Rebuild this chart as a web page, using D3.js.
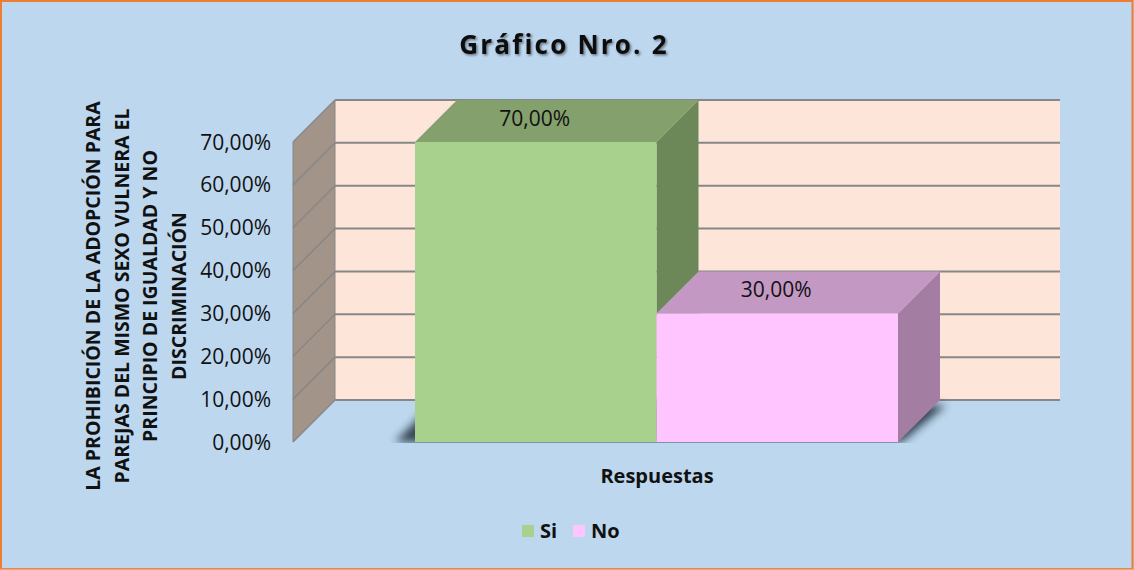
<!DOCTYPE html>
<html>
<head>
<meta charset="utf-8">
<script src="https://cdn.jsdelivr.net/npm/d3@7"></script>
<style>
  html, body { margin: 0; padding: 0; background: #BDD7EE; }
  svg { display: block; font-family: 'Open Sans', sans-serif; }
</style>
</head>
<body>
<svg id="chart" width="1134" height="570"></svg>
<script>
const TITLE = 'Gráfico Nro. 2';
const Y_TITLE = [
  'LA PROHIBICIÓN DE LA ADOPCIÓN PARA',
  'PAREJAS DEL MISMO SEXO VULNERA EL',
  'PRINCIPIO DE IGUALDAD Y NO',
  'DISCRIMINACIÓN',
];
const X_TITLE = 'Respuestas';
const SERIES = ['Si', 'No'];
const VALUES = [0.70, 0.30];
const LABELS = ['70,00%', '30,00%'];
const TICKS = [0, 0.1, 0.2, 0.3, 0.4, 0.5, 0.6, 0.7];

const COLORS = {
  Si: { front: '#A9D18E', top: '#84A06C', side: '#6C8858' },
  No: { front: '#FFC5FF', top: '#C399C3', side: '#A37EA2' },
};
const BACK_WALL = '#FDE6D9';
const SIDE_WALL = '#A39489';
const GRID = '#878787';

const W = 1134;
const H = 570;
const DX = 42;   // depth offset x
const DY = -42;  // depth offset y

const svg = d3.select('#chart');
const defs = svg.append('defs');

defs.append('filter').attr('id', 'blur')
  .attr('x', '-20%').attr('y', '-50%').attr('width', '140%').attr('height', '200%')
  .append('feGaussianBlur').attr('stdDeviation', 4.5);

const ts = defs.append('filter').attr('id', 'tshadow')
  .attr('x', '-10%').attr('y', '-30%').attr('width', '120%').attr('height', '160%');
ts.append('feDropShadow').attr('dx', 1.5).attr('dy', 1.5).attr('stdDeviation', 1.2)
  .attr('flood-color', '#000').attr('flood-opacity', 0.45);

const y = d3.scaleLinear().domain([0, 0.7]).range([442, 142]);
const xFront = [293, 1018];
const x = d3.scaleBand().domain(SERIES).range([415, 898]).padding(0);

defs.append('clipPath').attr('id', 'floorclip')
  .append('rect').attr('x', 0).attr('y', 0).attr('width', W).attr('height', y(0) + 1);

// background + border
svg.append('rect').attr('x', 0).attr('y', 0).attr('width', W).attr('height', H).attr('fill', '#BDD7EE');
svg.append('rect').attr('x', 1).attr('y', 1).attr('width', W - 2.5).attr('height', H - 2)
  .attr('fill', 'none').attr('stroke', '#ED7D31').attr('stroke-width', 2);
svg.append('line').attr('x1', 0).attr('x2', W).attr('y1', H - 0.5).attr('y2', H - 0.5)
  .attr('stroke', '#E8A882').attr('stroke-width', 1.5);

// back wall
svg.append('rect')
  .attr('x', xFront[0] + DX).attr('y', y(0.7) + DY)
  .attr('width', xFront[1] - xFront[0]).attr('height', y(0) - y(0.7))
  .attr('fill', BACK_WALL);

// side wall
svg.append('polygon')
  .attr('points', [
    [xFront[0], y(0.7)], [xFront[0] + DX, y(0.7) + DY],
    [xFront[0] + DX, y(0) + DY], [xFront[0], y(0)],
  ].map(p => p.join(',')).join(' '))
  .attr('fill', SIDE_WALL)
  .attr('stroke', GRID).attr('stroke-width', 1);

// gridlines on walls
const grid = svg.append('g');
TICKS.forEach(t => {
  grid.append('line')
    .attr('x1', xFront[0] + DX).attr('x2', xFront[1] + DX)
    .attr('y1', y(t) + DY).attr('y2', y(t) + DY)
    .attr('stroke', GRID).attr('stroke-width', 2);
  grid.append('line')
    .attr('x1', xFront[0]).attr('x2', xFront[0] + DX)
    .attr('y1', y(t)).attr('y2', y(t) + DY)
    .attr('stroke', GRID).attr('stroke-width', 1.5);
});

// tick labels
svg.append('g').selectAll('text').data(TICKS).join('text')
  .attr('x', 271).attr('y', d => y(d)).attr('dy', '0.36em')
  .attr('text-anchor', 'end').attr('font-size', 21).attr('fill', '#111')
  .text(d => d3.format('.2f')(d * 100).replace('.', ',') + '%');

// bar floor shadow (one silhouette under both boxes)
const x0all = x(SERIES[0]);
const x1all = x(SERIES[SERIES.length - 1]) + x.bandwidth();
svg.append('g').attr('clip-path', 'url(#floorclip)')
  .append('polygon')
  .attr('filter', 'url(#blur)')
  .attr('points', [
    [x0all - 20, y(0)], [x1all + 4, y(0)],
    [x1all + DX + 6, y(0) + DY + 5], [x0all + DX - 20, y(0) + DY],
  ].map(p => p.join(',')).join(' '))
  .attr('fill', '#1c2a38').attr('opacity', 0.85);

// 3D bars, drawn left to right so the right bar covers the left bar's side
const bars = svg.append('g');
SERIES.forEach((s, i) => {
  const c = COLORS[s];
  const x0 = x(s), x1 = x(s) + x.bandwidth();
  const yt = y(VALUES[i]), yb = y(0);
  const g = bars.append('g');
  g.append('polygon')
    .attr('points', [[x1, yt], [x1 + DX, yt + DY], [x1 + DX, yb + DY], [x1, yb]]
      .map(p => p.join(',')).join(' '))
    .attr('fill', c.side);
  g.append('polygon')
    .attr('points', [[x0, yt], [x0 + DX, yt + DY], [x1 + DX, yt + DY], [x1, yt]]
      .map(p => p.join(',')).join(' '))
    .attr('fill', c.top);
  g.append('rect')
    .attr('x', x0).attr('y', yt).attr('width', x1 - x0).attr('height', yb - yt)
    .attr('fill', c.front);
  g.append('text')
    .attr('x', x0 + x.bandwidth() / 2 - 1).attr('y', yt + DY / 2 - 3).attr('dy', '0.36em')
    .attr('text-anchor', 'middle').attr('font-size', 21).attr('fill', '#111')
    .text(LABELS[i]);
});

// title
svg.append('text')
  .attr('x', 564).attr('y', 45).attr('dy', '0.36em')
  .attr('text-anchor', 'middle').attr('font-size', 26).attr('font-weight', 700)
  .attr('letter-spacing', 2.2).attr('fill', '#111').attr('filter', 'url(#tshadow)')
  .text(TITLE);

// y-axis title
const yTitle = svg.append('text')
  .attr('transform', 'translate(136,296) rotate(-90)')
  .attr('text-anchor', 'middle').attr('font-size', 19.5).attr('font-weight', 700).attr('fill', '#111');
Y_TITLE.forEach((line, i) => {
  yTitle.append('tspan').attr('x', 0).attr('y', (i - 1.5) * 28.5).attr('dy', '0.36em').text(line);
});

// x-axis title
svg.append('text')
  .attr('x', 657).attr('y', 476).attr('dy', '0.36em')
  .attr('text-anchor', 'middle').attr('font-size', 20).attr('font-weight', 700).attr('fill', '#111')
  .text(X_TITLE);

// legend
const legend = svg.append('g').attr('transform', 'translate(522,531)');
let lx = 0;
SERIES.forEach(s => {
  const item = legend.append('g').attr('transform', `translate(${lx},0)`);
  item.append('rect').attr('x', 0).attr('y', -6).attr('width', 12).attr('height', 12)
    .attr('fill', COLORS[s].front);
  item.append('text').attr('x', 18).attr('y', 0).attr('dy', '0.36em')
    .attr('font-size', 20).attr('font-weight', 700).attr('fill', '#111').text(s);
  lx += 51;
});
</script>
</body>
</html>
